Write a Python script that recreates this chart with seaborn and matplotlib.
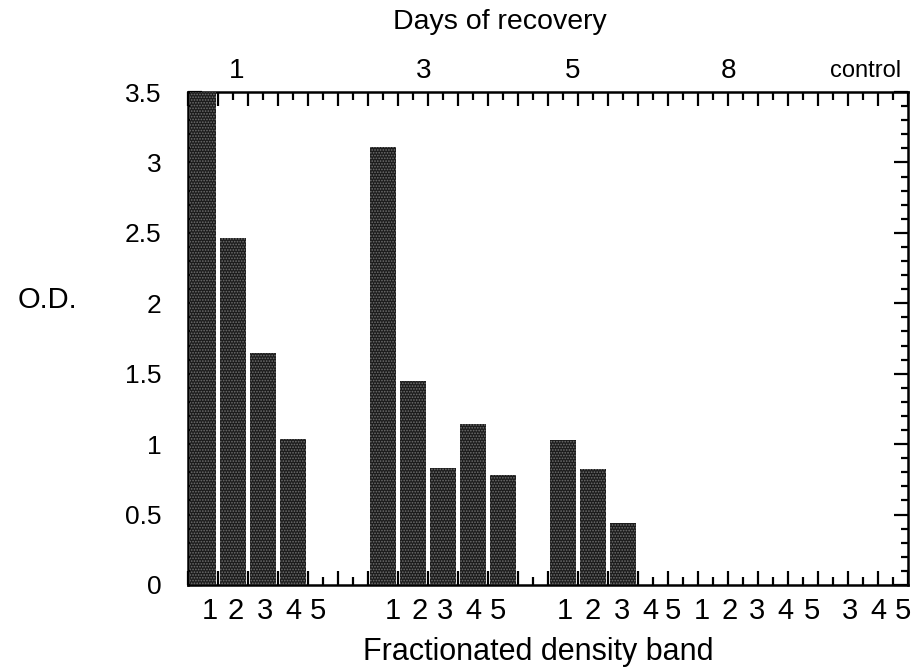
import numpy as np
import pandas as pd
import matplotlib
matplotlib.use("Agg")
import matplotlib.pyplot as plt
import seaborn as sns
from matplotlib.ticker import MultipleLocator, FixedLocator

# ---- data ----
days = ["1", "3", "5", "8", "control"]
bands_day1 = ["1", "2", "3", "4", "5"]
bands_day3 = ["1", "2", "3", "4", "5"]
bands_day5 = ["1", "2", "3", "4", "5"]
bands_day8 = ["1", "2", "3", "4", "5"]
bands_control = ["3", "4", "5"]
od_day1 = [3.5, 2.46, 1.65, 1.04, 0.0]
od_day3 = [3.11, 1.45, 0.83, 1.14, 0.78]
od_day5 = [1.03, 0.82, 0.44, 0.0, 0.0]
od_day8 = [0.0, 0.0, 0.0, 0.0, 0.0]
od_control = [0.0, 0.0, 0.0]
y_ticks = [0, 0.5, 1, 1.5, 2, 2.5, 3, 3.5]
y_tick_labels = ["0", "0.5", "1", "1.5", "2", "2.5", "3", "3.5"]

# ---- layout (slot units) ----
group_start = [0, 6, 12, 17, 22]
n_slots = 24
band_label_x = [0.23, 1.1, 2.07, 3.0, 3.83,
                6.33, 7.23, 8.07, 9.0, 9.83,
                12.07, 13.0, 13.97, 14.9, 15.67,
                16.63, 17.57, 18.47, 19.4, 20.3,
                21.57, 22.5, 23.33]
day_label_x = [1.13, 7.37, 12.33, 17.5, 22.1]

groups = [(bands_day1, od_day1), (bands_day3, od_day3), (bands_day5, od_day5),
          (bands_day8, od_day8), (bands_control, od_control)]
rows = []
for gi, (bands, vals) in enumerate(groups):
    for bi, (b, v) in enumerate(zip(bands, vals)):
        rows.append({"day": days[gi], "band": b, "slot": group_start[gi] + bi, "od": v})
df = pd.DataFrame(rows)
df_bars = df[df["od"] > 0]

sns.set_style("white")
plt.rcParams["font.family"] = ["Liberation Sans", "DejaVu Sans"]
plt.rcParams["text.color"] = "black"
plt.rcParams["xtick.color"] = "black"
plt.rcParams["ytick.color"] = "black"
plt.rcParams["hatch.linewidth"] = 0.8

W, H = 917, 671
fig = plt.figure(figsize=(W / 100, H / 100), dpi=100)
L, R, T, B = 188, 908, 92, 585
ax = fig.add_axes([L / W, 1 - B / H, (R - L) / W, (B - T) / H])

sns.barplot(data=df_bars, x="slot", y="od", native_scale=True, width=0.88,
            color="#1e1e1e", edgecolor="#707070", linewidth=0,
            hatch="......", ax=ax, zorder=3)
for p in ax.patches:
    p.set_facecolor("#1c1c1c")

ax.set_xlim(-0.5, n_slots - 0.5)
ax.set_ylim(0, 3.5)

for s in ax.spines.values():
    s.set_visible(True)
    s.set_color("black")
    s.set_linewidth(1.8)

ax.xaxis.set_major_locator(FixedLocator(np.arange(-0.5, n_slots, 1.0)))
ax.xaxis.set_minor_locator(FixedLocator(np.arange(0, n_slots, 1.0)))
ax.set_xticklabels([])
ax.yaxis.set_major_locator(FixedLocator(y_ticks))
ax.yaxis.set_minor_locator(MultipleLocator(0.1))
ax.set_yticklabels(y_tick_labels)
ax.tick_params(axis="x", which="major", direction="in", length=10, width=1.6,
               top=True, bottom=True, labelbottom=False)
ax.tick_params(axis="x", which="minor", direction="in", length=5.5, width=1.6,
               top=True, bottom=True)
ax.tick_params(axis="y", which="major", direction="in", length=10, width=1.6,
               left=True, right=True, labelsize=19, pad=19)
ax.tick_params(axis="y", which="minor", direction="in", length=5, width=1.6,
               left=True, right=True)
ax.set_xlabel("")
ax.set_ylabel("")

# band labels under the axis
band_texts = bands_day1 + bands_day3 + bands_day5 + bands_day8 + bands_control
tr = ax.get_xaxis_transform()
for x, t in zip(band_label_x, band_texts):
    ax.text(x, -0.053, t, transform=tr, ha="center", va="center", fontsize=21,
            clip_on=False)

# day labels above the axis
for x, t in zip(day_label_x, days):
    ax.text(x, 1.043, t, transform=tr, ha="center", va="center",
            fontsize=17 if t == "control" else 20, clip_on=False)

fig.text(500 / W, 1 - 22 / H, "Days of recovery", ha="center", va="center", fontsize=20.5)
fig.text(538 / W, 1 - 652 / H, "Fractionated density band", ha="center", va="center", fontsize=22)
fig.text(47 / W, 1 - 300 / H, "O.D.", ha="center", va="center", fontsize=21)

fig.savefig("out.png", dpi=100)
